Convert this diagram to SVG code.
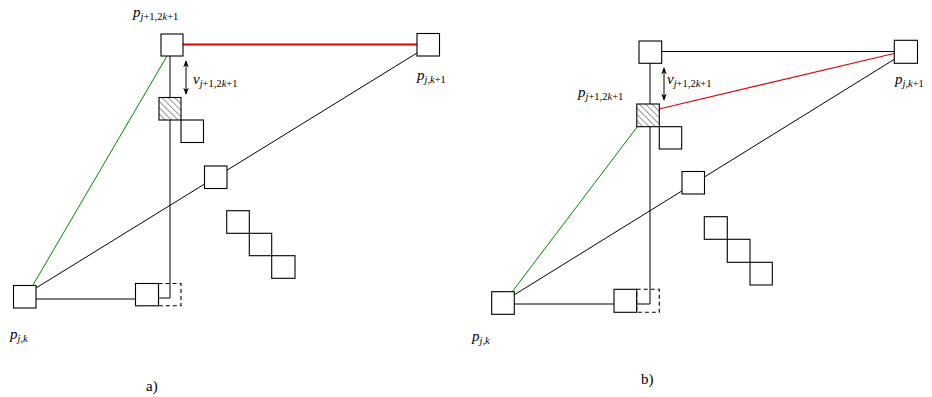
<svg xmlns="http://www.w3.org/2000/svg" width="932" height="397" viewBox="0 0 932 397">
<style>
.bx{fill:#fff;stroke:#000;stroke-width:1.1}
.dash{fill:none;stroke:#000;stroke-width:1.1;stroke-dasharray:4 3}
.ln{stroke:#000;stroke-width:1;fill:none}
.red{stroke:#e00000;fill:none}
.grn{stroke:#008800;stroke-width:1;fill:none}
.hat{fill:url(#hatch);stroke:#000;stroke-width:1.1}
text{font-family:"Liberation Serif","DejaVu Serif",serif;font-size:15px;fill:#000}
.i{font-style:italic}
.s{font-size:10.5px}
</style>
<defs>
<pattern id="hatch" patternUnits="userSpaceOnUse" width="4.5" height="4.5" patternTransform="rotate(-45)">
<rect width="4.5" height="4.5" fill="#fff"/>
<line x1="0" y1="0" x2="0" y2="4.5" stroke="#000" stroke-width="0.8"/>
</pattern>
<marker id="ah" viewBox="0 0 10 10" refX="9" refY="5" markerWidth="7" markerHeight="7" orient="auto-start-reverse" markerUnits="userSpaceOnUse">
<path d="M0,1 L10,5 L0,9 L3,5 Z" fill="#000"/>
</marker>
</defs>

<g id="connectors">
<!-- panel a -->
<line class="ln" x1="170" y1="56" x2="170" y2="298"/>
<line class="ln" x1="159" y1="298" x2="170" y2="298"/>
<line class="red" stroke-width="2" x1="183" y1="44.5" x2="417" y2="44.5"/>
<line class="grn" x1="167" y1="56" x2="33" y2="285"/>
<line class="ln" x1="36" y1="288" x2="417" y2="53"/>
<line class="ln" x1="36" y1="299" x2="135" y2="299"/>
<line class="ln" x1="186" y1="61" x2="186" y2="94" marker-start="url(#ah)" marker-end="url(#ah)"/>
<!-- panel b -->
<line class="ln" x1="650" y1="63" x2="650" y2="304"/>
<line class="ln" x1="637" y1="304" x2="650" y2="304"/>
<line class="ln" x1="662" y1="51.5" x2="894" y2="51.5"/>
<line class="red" stroke-width="1.2" x1="659" y1="109" x2="894" y2="53.5"/>
<line class="ln" x1="894" y1="59.5" x2="514" y2="295"/>
<line class="grn" x1="637.5" y1="126.5" x2="512" y2="292"/>
<line class="ln" x1="514" y1="304" x2="614" y2="304"/>
<line class="ln" x1="664" y1="68" x2="664" y2="100" marker-start="url(#ah)" marker-end="url(#ah)"/>
</g>

<!-- panel a nodes -->
<g id="a-top"><rect class="bx" x="161" y="34" width="22" height="22"/></g>
<g id="a-topright"><rect class="bx" x="417" y="33.5" width="22.5" height="22.5"/></g>
<g id="a-hatched"><rect class="hat" x="159" y="97.5" width="22" height="22.5"/></g>
<g id="a-small"><rect class="bx" x="181" y="120" width="22.5" height="22.5"/></g>
<g id="a-mid"><rect class="bx" x="204.5" y="166" width="22.5" height="22.5"/></g>
<g id="a-stair">
<rect class="bx" x="226.7" y="210.7" width="22.6" height="22.6"/>
<rect class="bx" x="249.3" y="233.3" width="22.4" height="22.4"/>
<rect class="bx" x="271.7" y="255.7" width="23.3" height="22.6"/>
</g>
<g id="a-bottomleft"><rect class="bx" x="13.5" y="285.5" width="22.5" height="22.5"/></g>
<g id="a-bottom"><rect class="bx" x="135.5" y="283.5" width="23" height="22.3"/><rect class="dash" x="158.5" y="283.5" width="22.5" height="22.3"/></g>

<!-- panel b nodes -->
<g id="b-top"><rect class="bx" x="639" y="41" width="22.7" height="22.3"/></g>
<g id="b-topright"><rect class="bx" x="894.3" y="40.3" width="23.2" height="23"/></g>
<g id="b-hatched"><rect class="hat" x="636.8" y="104" width="22.5" height="22.7"/></g>
<g id="b-small"><rect class="bx" x="659.3" y="126.7" width="22.4" height="22.3"/></g>
<g id="b-mid"><rect class="bx" x="682" y="171.5" width="22.5" height="22.5"/></g>
<g id="b-stair">
<rect class="bx" x="704.3" y="216.7" width="23" height="22.6"/>
<rect class="bx" x="727.3" y="239.3" width="22.7" height="23"/>
<rect class="bx" x="750" y="262.3" width="22.3" height="22.7"/>
</g>
<g id="b-bottomleft"><rect class="bx" x="491.7" y="291.7" width="22.6" height="22.6"/></g>
<g id="b-bottom"><rect class="bx" x="614" y="289.3" width="22.7" height="23"/><rect class="dash" x="636.7" y="289.3" width="22.6" height="23"/></g>

<!-- labels -->
<g id="labels">
<text x="133" y="17"><tspan class="i">p</tspan><tspan class="s" dy="3"><tspan class="i">j</tspan>+1,2<tspan class="i">k</tspan>+1</tspan></text>
<text x="193" y="84"><tspan class="i">v</tspan><tspan class="s" dy="3"><tspan class="i">j</tspan>+1,2<tspan class="i">k</tspan>+1</tspan></text>
<text x="417" y="80"><tspan class="i">p</tspan><tspan class="s" dy="3"><tspan class="i">j,k</tspan>+1</tspan></text>
<text x="10" y="339"><tspan class="i">p</tspan><tspan class="s" dy="3" font-style="italic">j,k</tspan></text>
<text x="146" y="391" font-size="12">a)</text>
<text x="578" y="97"><tspan class="i">p</tspan><tspan class="s" dy="3"><tspan class="i">j</tspan>+1,2<tspan class="i">k</tspan>+1</tspan></text>
<text x="667" y="84"><tspan class="i">v</tspan><tspan class="s" dy="3"><tspan class="i">j</tspan>+1,2<tspan class="i">k</tspan>+1</tspan></text>
<text x="895" y="84"><tspan class="i">p</tspan><tspan class="s" dy="3"><tspan class="i">j,k</tspan>+1</tspan></text>
<text x="472" y="341"><tspan class="i">p</tspan><tspan class="s" dy="3" font-style="italic">j,k</tspan></text>
<text x="641" y="384" font-size="12">b)</text>
</g>
</svg>
